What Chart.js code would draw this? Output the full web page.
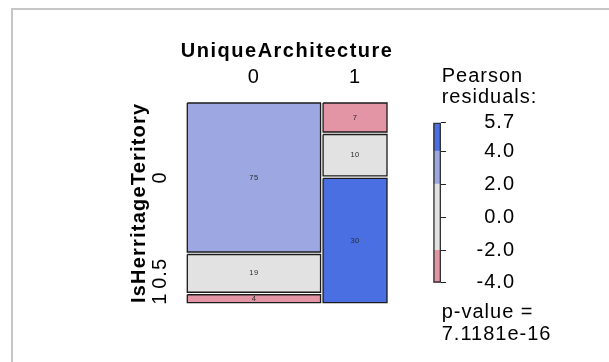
<!DOCTYPE html>
<html>
<head>
<meta charset="utf-8">
<script src="https://cdn.jsdelivr.net/npm/chart.js@4.4.1/dist/chart.umd.min.js"></script>
<style>
  html, body { margin: 0; padding: 0; background: #ffffff; }
  #stage { position: relative; width: 609px; height: 362px; overflow: hidden; background: #ffffff; }
  #frame { position: absolute; left: 11px; top: 8px; width: 700px; height: 500px;
           border-left: 2px solid #c6c6c6; border-top: 2px solid #c6c6c6; }
  canvas { position: absolute; left: 0; top: 0; }
</style>
</head>
<body>
<div id="stage">
  <div id="frame"></div>
  <canvas id="mosaic" width="609" height="362"></canvas>
  <canvas id="shadeKey" width="609" height="362"></canvas>
</div>
<script>
// Cross-tabulation: UniqueArchitecture (columns) by IsHerritageTeritory (rows)
const archName = 'UniqueArchitecture';
const heritageName = 'IsHerritageTeritory';
const archLevels = ['0', '1'];
const heritageLevels = ['0', '0.5', '1'];
const countsArch0 = [75, 19, 4];
const countsArch1 = [7, 10, 30];
// residual cut points used for shading and for the key's inner ticks
const shadingCuts = [-4, -2, 2, 4];
const keyTicks = [-2, 0, 2, 4];
const pValueText = '7.1181e-16';

const SHADES = { strongNeg: '#D33F6A', neg: '#E495A5', none: '#E2E2E2', pos: '#9DA8E2', strongPos: '#4A6FE3' };
const TILE_GAP = 0.0128;   // spacing between tiles, in proportion units
const FONT = '"Liberation Sans", Arial, Helvetica, sans-serif';
const SPACING = '1px';

Chart.defaults.font.family = FONT;
Chart.defaults.color = '#000000';

const spacingPlugin = {
  id: 'spacing',
  beforeUpdate(chart) { chart.ctx.letterSpacing = SPACING; },
  beforeDraw(chart) { chart.ctx.letterSpacing = SPACING; }
};

// ---- derived table quantities ----
const columns = [countsArch0, countsArch1];
const colTotals = columns.map(c => c.reduce((a, b) => a + b, 0));
const grandTotal = colTotals.reduce((a, b) => a + b, 0);
const rowTotals = heritageLevels.map((_, i) => columns.reduce((s, c) => s + c[i], 0));

function pearsonResidual(j, i) {
  const expected = rowTotals[i] * colTotals[j] / grandTotal;
  return (columns[j][i] - expected) / Math.sqrt(expected);
}

function shadeFor(r) {
  if (r >= 4) return SHADES.strongPos;
  if (r >= 2) return SHADES.pos;
  if (r <= -4) return SHADES.strongNeg;
  if (r <= -2) return SHADES.neg;
  return SHADES.none;
}

// tile extents in proportion space
const tiles = [];
let xCursor = 0;
columns.forEach((col, j) => {
  const w = colTotals[j] / grandTotal;
  let yCursor = 0;
  col.forEach((n, i) => {
    const h = n / colTotals[j];
    tiles.push({ j, i, n, x0: xCursor, x1: xCursor + w, y0: yCursor, y1: yCursor + h, r: pearsonResidual(j, i) });
    yCursor += h + TILE_GAP;
  });
  xCursor += w + TILE_GAP;
});

const columnCentres = columns.map((_, j) => {
  const t = tiles.find(t => t.j === j);
  return (t.x0 + t.x1) / 2;
});
const rowCentres = heritageLevels.map((_, i) => {
  const t = tiles.find(t => t.j === 0 && t.i === i);
  return (t.y0 + t.y1) / 2;
});

const tileDatasets = tiles.map(t => ({
  data: [
    { x: t.x0, y: t.y0 }, { x: t.x1, y: t.y0 },
    { x: t.x1, y: t.y1 }, { x: t.x0, y: t.y1 }, { x: t.x0, y: t.y0 }
  ],
  showLine: true,
  fill: 'shape',
  backgroundColor: shadeFor(t.r),
  borderColor: '#1b1b1b',
  borderWidth: 1.3,
  borderJoinStyle: 'miter',
  pointRadius: 0,
  tension: 0,
  clip: false
}));

// counts inside tiles, rotated row labels and the two variable names
const tileTextPlugin = {
  id: 'tileText',
  afterDatasetsDraw(chart) {
    const { ctx, scales: { x, y }, chartArea: a } = chart;
    ctx.save();
    ctx.letterSpacing = '0.4px';
    ctx.font = '7.5px ' + FONT;
    ctx.fillStyle = '#2a2a2a';
    ctx.textAlign = 'center';
    ctx.textBaseline = 'middle';
    tiles.forEach(t => {
      ctx.fillText(String(t.n), x.getPixelForValue((t.x0 + t.x1) / 2), y.getPixelForValue((t.y0 + t.y1) / 2));
    });

    ctx.letterSpacing = SPACING;
    ctx.font = '20px ' + FONT;
    ctx.fillStyle = '#000000';
    y.ticks.forEach((tick, idx) => {
      ctx.save();
      ctx.translate(a.left - 27, y.getPixelForValue(tick.value));
      ctx.rotate(-Math.PI / 2);
      ctx.fillText(heritageLevels[idx], 0, 0);
      ctx.restore();
    });

    ctx.font = 'bold 20px ' + FONT;
    ctx.textBaseline = 'alphabetic';
    ctx.letterSpacing = '1.5px';
    ctx.fillText(archName, (a.left + a.right) / 2, a.top - 46.3);
    ctx.letterSpacing = '1.2px';
    ctx.save();
    ctx.translate(a.left - 42.8, (a.top + a.bottom) / 2);
    ctx.rotate(-Math.PI / 2);
    ctx.fillText(heritageName, 0, 0);
    ctx.restore();
    ctx.restore();
  }
};

new Chart(document.getElementById('mosaic'), {
  type: 'scatter',
  data: { datasets: tileDatasets },
  options: {
    responsive: false,
    animation: false,
    events: [],
    layout: { padding: { left: 0, top: 0, right: 222, bottom: 59.3 } },
    plugins: { legend: { display: false }, tooltip: { enabled: false } },
    scales: {
      x: {
        type: 'linear',
        position: 'top',
        min: 0,
        max: 1 + TILE_GAP,
        grid: { display: false, drawTicks: false },
        border: { display: false },
        afterBuildTicks: s => { s.ticks = columnCentres.map(v => ({ value: v })); },
        afterFit: s => { s.height = 103; },
        ticks: {
          autoSkip: false,
          maxRotation: 0,
          padding: 14,
          font: { size: 20 },
          color: '#000000',
          callback: (v, idx) => archLevels[idx]
        }
      },
      y: {
        type: 'linear',
        position: 'left',
        reverse: true,
        min: 0,
        max: 1 + 2 * TILE_GAP,
        grid: { display: false, drawTicks: false },
        border: { display: false },
        afterBuildTicks: s => { s.ticks = rowCentres.map(v => ({ value: v })); },
        afterFit: s => { s.width = 187.3; },
        ticks: { display: false }
      }
    }
  },
  plugins: [spacingPlugin, tileTextPlugin]
});

// ---- shading key ----
const residuals = tiles.map(t => t.r);
const rMin = Math.min(...residuals);
const rMax = Math.max(...residuals);
const bandEdges = [rMin, ...shadingCuts.filter(v => v > rMin && v < rMax), rMax];
const bandDatasets = bandEdges.slice(0, -1).map((lo, k) => {
  const hi = bandEdges[k + 1];
  return {
    data: [[lo, hi]],
    backgroundColor: shadeFor((lo + hi) / 2),
    borderWidth: 0,
    grouped: false,
    barPercentage: 1,
    categoryPercentage: 1
  };
});
bandDatasets.unshift({
  data: [[rMin, rMax]],
  backgroundColor: 'rgba(0,0,0,0)',
  borderColor: '#333333',
  borderWidth: 1,
  borderSkipped: false,
  grouped: false,
  barPercentage: 1,
  categoryPercentage: 1,
  order: -1
});
const keyTickValues = [rMin, ...keyTicks.filter(v => v > rMin && v < rMax), rMax];

const keyTextPlugin = {
  id: 'keyText',
  afterDraw(chart) {
    const { ctx, chartArea: a } = chart;
    ctx.save();
    ctx.letterSpacing = SPACING;
    ctx.font = '20px ' + FONT;
    ctx.fillStyle = '#000000';
    ctx.textAlign = 'left';
    ctx.textBaseline = 'alphabetic';
    const tx = a.left + 8.4;
    ctx.fillText('Pearson', tx, a.top - 41);
    ctx.fillText('residuals:', tx, a.top - 19.7);
    ctx.fillText('p-value =', tx, a.bottom + 35.3);
    ctx.fillText(pValueText, tx, a.bottom + 56.8);
    ctx.restore();
  }
};

new Chart(document.getElementById('shadeKey'), {
  type: 'bar',
  data: { labels: ['residuals'], datasets: bandDatasets },
  options: {
    responsive: false,
    animation: false,
    events: [],
    layout: { padding: { left: 433.3, top: 122.7, right: 94, bottom: 79.3 } },
    plugins: { legend: { display: false }, tooltip: { enabled: false } },
    scales: {
      x: { display: false },
      y: {
        position: 'right',
        min: rMin,
        max: rMax,
        grid: { display: true, drawOnChartArea: false, drawTicks: true, tickLength: 5, color: '#222222', lineWidth: 1 },
        border: { display: false },
        afterBuildTicks: s => { s.ticks = keyTickValues.map(v => ({ value: v })); },
        afterFit: s => { s.width = 74; },
        ticks: {
          autoSkip: false,
          crossAlign: 'far',
          padding: 20,
          font: { size: 20 },
          color: '#000000',
          callback: v => v.toFixed(1)
        }
      }
    }
  },
  plugins: [spacingPlugin, keyTextPlugin]
});
</script>
</body>
</html>
